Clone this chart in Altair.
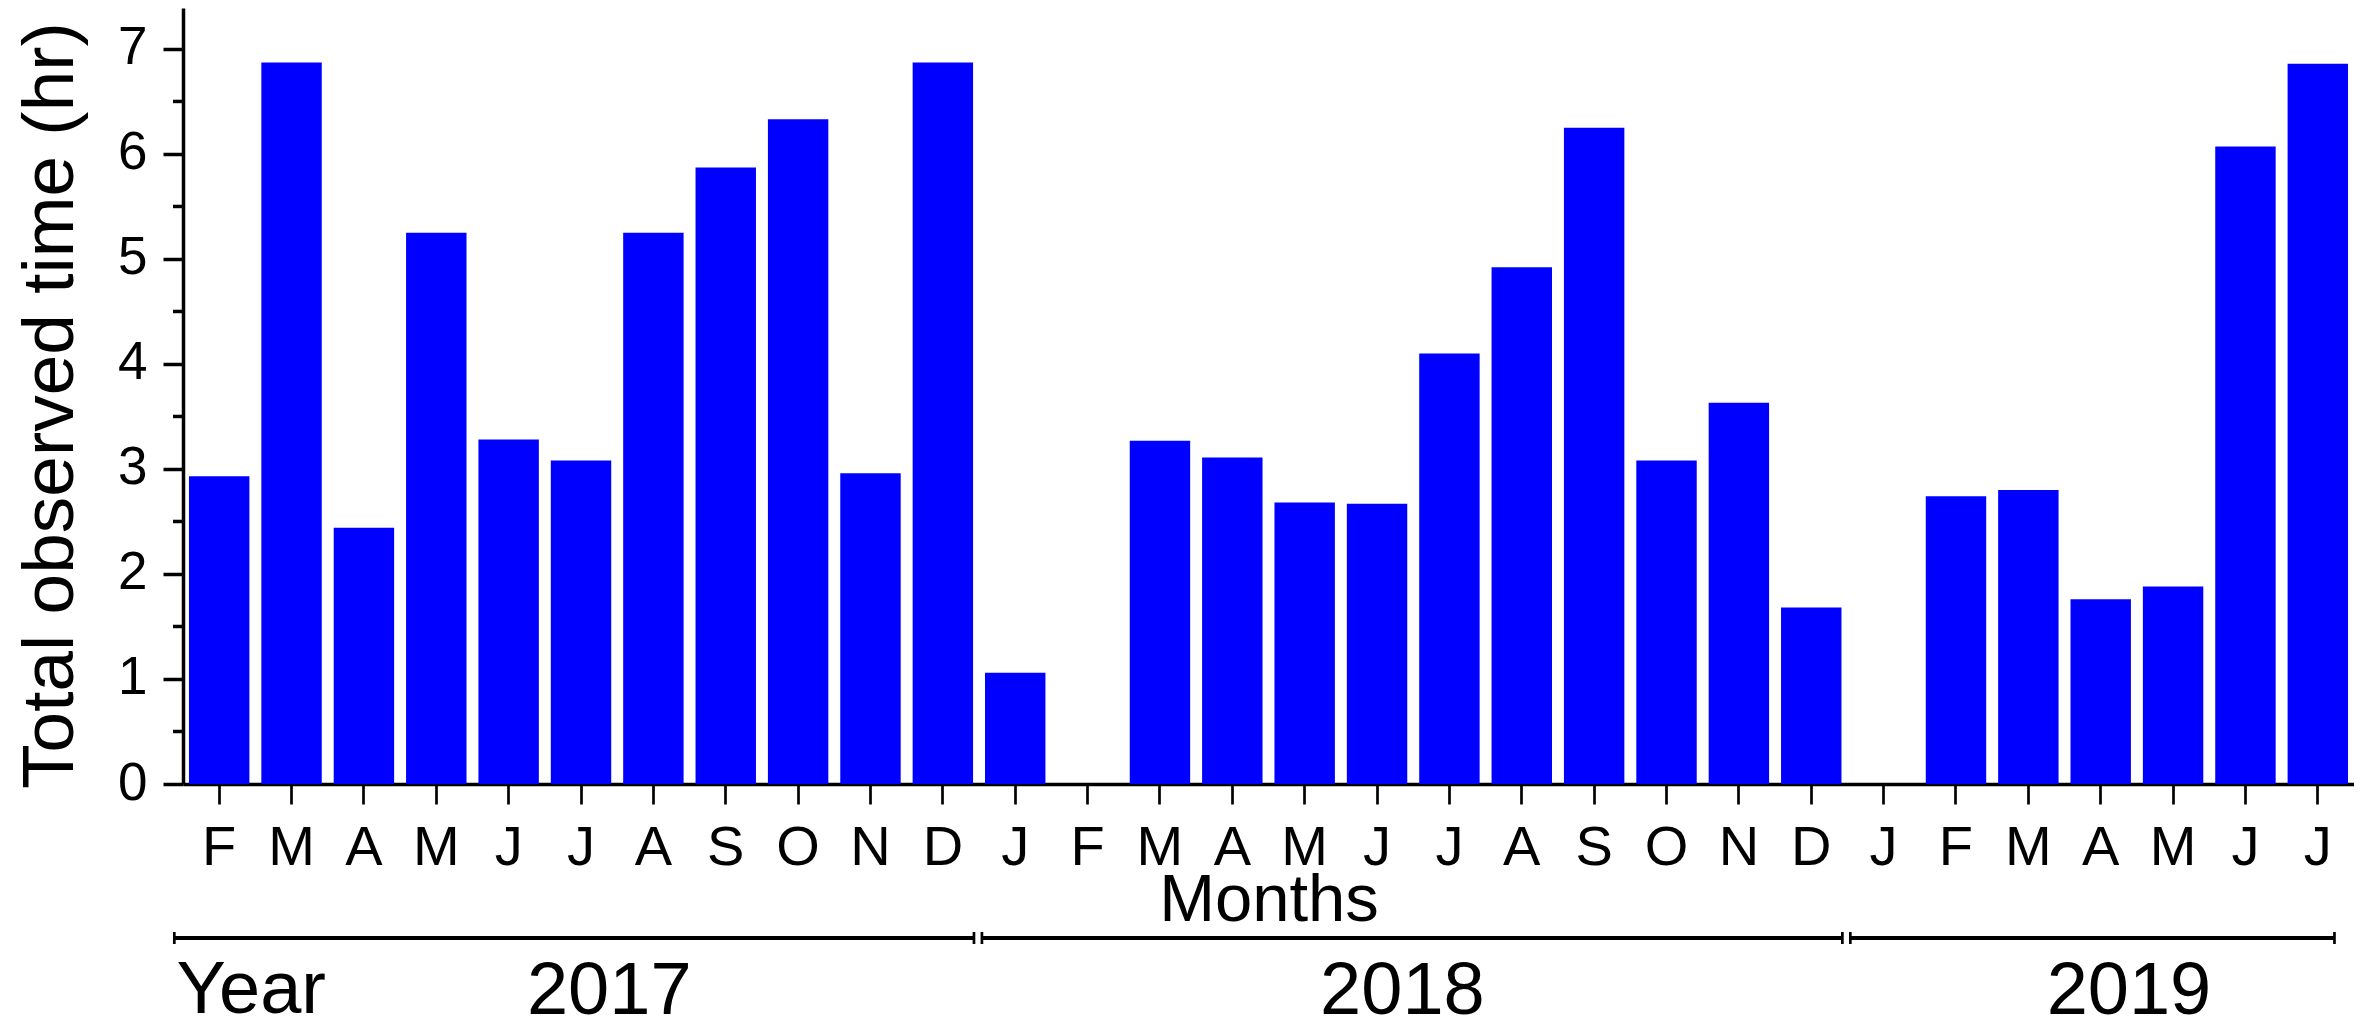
import json
import altair as alt
import pandas as pd

# ---- data ----
months = ["F", "M", "A", "M", "J", "J", "A", "S", "O", "N", "D",
          "J", "F", "M", "A", "M", "J", "J", "A", "S", "O", "N", "D",
          "J", "F", "M", "A", "M", "J", "J"]
years = [2017] * 11 + [2018] * 12 + [2019] * 7
hours = [2.93, 6.87, 2.44, 5.25, 3.28, 3.08, 5.25, 5.87, 6.33, 2.96, 6.87,
         1.06, 0.00, 3.27, 3.11, 2.68, 2.67, 4.10, 4.92, 6.25, 3.08, 3.63, 1.68,
         0.00, 2.74, 2.80, 1.76, 1.88, 6.07, 6.86]

y_major = [0, 1, 2, 3, 4, 5, 6, 7]
y_minor = [0.5, 1.5, 2.5, 3.5, 4.5, 5.5, 6.5]

# year row (in month-slot units along the x axis)
year_names = ["2017", "2018", "2019"]
year_label_pos = [5.89, 16.85, 26.89]
year_span_start = [-0.12, 11.04, 23.04]
year_span_end = [10.93, 22.93, 29.73]
year_word = "Year"
year_word_pos = [-0.09]

FONT = "Liberation Sans, Arial, sans-serif"
N = len(months)

df = pd.DataFrame({"idx": list(range(N)), "month": months, "year": years, "hours": hours})
label_expr = json.dumps(months) + "[datum.value]"

yscale = alt.Scale(domain=[0, 7.39], nice=False, zero=True)
qx = alt.Scale(domain=[0, N], nice=False, zero=False)

yaxis = alt.Axis(title="Total observed time (hr)", values=y_major,
                 labelFont=FONT, labelFontSize=53, labelColor="black",
                 labelBaseline="alphabetic", labelOffset=15, labelPadding=16,
                 labelAlign="right", labelFlush=False,
                 tickSize=20, tickWidth=3.5, tickColor="black",
                 domainColor="black", domainWidth=3.5,
                 titleFont=FONT, titleFontSize=73, titleFontWeight="normal",
                 titleColor="black", titleAngle=270, titleAlign="center",
                 titleBaseline="alphabetic", titleX=-111, titleY=397,
                 grid=False)

bars = alt.Chart(df).mark_bar(color="#0000FF").encode(
    x=alt.X("idx:O",
            scale=alt.Scale(paddingInner=0.165, paddingOuter=0.0825),
            axis=alt.Axis(title="Months", labelExpr=label_expr, labelAngle=0,
                          labelFont=FONT, labelFontSize=56, labelColor="black",
                          labelBaseline="alphabetic", labelPadding=60,
                          labelOverlap=False, labelAlign="center",
                          tickSize=20, tickWidth=2.7, tickColor="black",
                          domainColor="black", domainWidth=3.5,
                          titleFont=FONT, titleFontSize=67, titleFontWeight="normal",
                          titleColor="black", titleBaseline="alphabetic", titleY=136,
                          grid=False)),
    y=alt.Y("hours:Q", scale=yscale, axis=yaxis),
)

minor = alt.Chart(pd.DataFrame({"hours": y_minor})).mark_rule(
    color="black", strokeWidth=3.5).encode(
    y=alt.Y("hours:Q", scale=yscale, axis=yaxis),
    x=alt.value(-10), x2=alt.value(0),
)

spans = pd.DataFrame({"start": year_span_start, "end": year_span_end})
seg = alt.Chart(spans).mark_rule(color="black", strokeWidth=4).encode(
    x=alt.X("start:Q", scale=qx, axis=None),
    x2="end:Q",
    y=alt.value(930),
)

ends = pd.DataFrame({"pos": year_span_start + year_span_end})
endmarks = alt.Chart(ends).mark_rule(color="black", strokeWidth=2.7).encode(
    x=alt.X("pos:Q", scale=qx, axis=None),
    y=alt.value(924), y2=alt.value(936),
)

ylab = alt.Chart(pd.DataFrame({"pos": year_label_pos, "name": year_names})).mark_text(
    font=FONT, fontSize=74, color="black", align="center", baseline="alphabetic").encode(
    x=alt.X("pos:Q", scale=qx, axis=None),
    y=alt.value(1006),
    text="name:N",
)

yword = alt.Chart(pd.DataFrame({"pos": year_word_pos, "name": [year_word]})).mark_text(
    font=FONT, fontSize=74, color="black", align="left", baseline="alphabetic").encode(
    x=alt.X("pos:Q", scale=qx, axis=None),
    y=alt.value(1005),
    text="name:N",
)

chart = alt.layer(bars, minor, seg, endmarks, ylab, yword).resolve_scale(
    x="independent"
).properties(
    width=2171, height=776,
    padding={"left": 175, "top": 0, "right": 0, "bottom": 248},
    autosize=alt.AutoSizeParams(type="none"),
    background="white",
).configure_view(stroke=None)

chart.save("out.html", embed_options={"renderer": "svg", "actions": False})
